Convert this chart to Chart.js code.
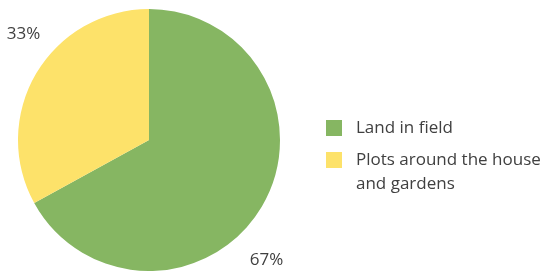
<!DOCTYPE html>
<html>
<head>
<meta charset="utf-8">
<script src="https://cdn.jsdelivr.net/npm/chart.js@4.4.1/dist/chart.umd.min.js"></script>
<style>
  html, body { margin: 0; padding: 0; background: #fff; overflow: hidden; }
  #wrap { position: relative; width: 547px; height: 271px; }
</style>
</head>
<body>
<div id="wrap"><canvas id="pie" width="547" height="271"></canvas></div>
<script>
// chart data
var categories = ['Land in field', 'Plots around the house and gardens'];
var shares = [67, 33];
var colors = ['#86B662', '#FDE26A'];

var textColor = '#404040';
var fontFamily = '"Open Sans", "Noto Sans", sans-serif';

// percent labels outside the slices
var outsideLabels = {
  id: 'outsideLabels',
  afterDatasetsDraw: function (chart, args, opts) {
    var ctx = chart.ctx;
    var meta = chart.getDatasetMeta(0);
    var total = shares.reduce(function (a, b) { return a + b; }, 0);
    ctx.save();
    ctx.fillStyle = textColor;
    ctx.font = opts.fontSize + 'px ' + fontFamily;
    ctx.textAlign = 'center';
    ctx.textBaseline = 'middle';
    meta.data.forEach(function (arc, i) {
      var mid = (arc.startAngle + arc.endAngle) / 2 + opts.shift[i] * Math.PI / 180;
      var r = arc.outerRadius + opts.offset[i];
      var x = arc.x + Math.cos(mid) * r;
      var y = arc.y + Math.sin(mid) * r;
      ctx.fillText(Math.round(shares[i] / total * 100) + '%', x, y);
    });
    ctx.restore();
  }
};

// legend on the right, with wrapped text
var sideLegend = {
  id: 'sideLegend',
  afterDraw: function (chart, args, opts) {
    var ctx = chart.ctx;
    ctx.save();
    ctx.font = opts.fontSize + 'px ' + fontFamily;
    ctx.textBaseline = 'middle';
    var y = opts.top;
    var maxW = chart.width - opts.textX - 2;
    categories.forEach(function (label, i) {
      ctx.fillStyle = colors[i];
      ctx.fillRect(opts.boxX, y - opts.box / 2, opts.box, opts.box);
      ctx.fillStyle = textColor;
      var words = label.split(' ');
      var line = '';
      var lines = [];
      words.forEach(function (w) {
        var test = line ? line + ' ' + w : w;
        if (ctx.measureText(test).width > maxW && line) {
          lines.push(line);
          line = w;
        } else {
          line = test;
        }
      });
      lines.push(line);
      lines.forEach(function (l, k) {
        ctx.fillText(l, opts.textX, y + k * opts.lineHeight);
      });
      y += (lines.length - 1) * opts.lineHeight + opts.itemGap;
    });
    ctx.restore();
  }
};

new Chart(document.getElementById('pie'), {
  type: 'pie',
  data: {
    labels: categories,
    datasets: [{
      data: shares,
      backgroundColor: colors,
      borderWidth: 0
    }]
  },
  options: {
    responsive: false,
    animation: false,
    layout: { padding: { left: 17, top: 9, right: 266, bottom: -2 } },
    plugins: {
      legend: { display: false },
      tooltip: { enabled: false },
      outsideLabels: { fontSize: 17, offset: [37, 33], shift: [15, 9.5] },
      sideLegend: { fontSize: 17, boxX: 326, box: 16, textX: 356, top: 128, itemGap: 32, lineHeight: 24 }
    }
  },
  plugins: [outsideLabels, sideLegend]
});
</script>
</body>
</html>
